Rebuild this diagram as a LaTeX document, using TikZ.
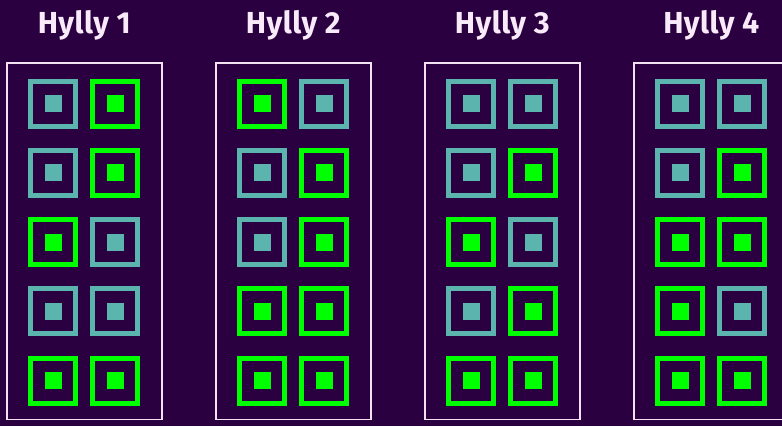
\documentclass[tikz,border=0pt]{standalone}
\usepackage{fontspec}
\setmainfont{Fira Sans}
\newfontfamily\titlefont[LetterSpace=1.5]{Fira Sans}
\definecolor{bgpurple}{HTML}{2A0040}
\definecolor{tealbox}{HTML}{5CB4AE}
\definecolor{greenbox}{HTML}{00FF00}
\definecolor{framecol}{HTML}{F2E2F2}
\definecolor{titlecol}{HTML}{F8EAF8}
\tikzset{
  shelfframe/.style={draw=framecol, line width=1.6bp, minimum width=155bp, minimum height=356.5bp, inner sep=0pt},
  shelftitle/.style={text=titlecol, font=\titlefont\fontsize{30.5}{33}\selectfont\bfseries, inner sep=0pt, anchor=base},
  slotT/.style={draw=tealbox, line width=5bp, minimum size=45bp, inner sep=0pt},
  slotG/.style={draw=greenbox, line width=5bp, minimum size=45bp, inner sep=0pt},
  coreT/.style={fill=tealbox, minimum size=17bp, inner sep=0pt},
  coreG/.style={fill=greenbox, minimum size=17bp, inner sep=0pt},
}
\begin{document}
\begin{tikzpicture}[x=1bp,y=-1bp]
  \fill[bgpurple] (0,0) rectangle (782,426);
  \useasboundingbox (0,0) rectangle (782,426);
  % shelves: index / slot pattern per row (left/right)
  \foreach \s/\pat in {1/{T/G,T/G,G/T,T/T,G/G},
                       2/{G/T,T/G,T/G,G/G,G/G},
                       3/{T/T,T/G,G/T,T/G,G/G},
                       4/{T/T,T/G,G/G,G/T,G/G}} {
    \pgfmathsetmacro{\cx}{84.3+209*(\s-1)}
    \node[shelfframe] (shelf\s) at (\cx,241.2) {};
    \node[shelftitle] (title\s) at (\cx,33.5) {Hylly \s};
    \foreach \l/\r [count=\k] in \pat {
      \pgfmathsetmacro{\cy}{103.7+69.25*(\k-1)}
      \node[slot\l] (s\s-\k-a) at (\cx-31,\cy) {};
      \node[core\l] (c\s-\k-a) at (s\s-\k-a.center) {};
      \node[slot\r] (s\s-\k-b) at (\cx+31,\cy) {};
      \node[core\r] (c\s-\k-b) at (s\s-\k-b.center) {};
    }
  }
\end{tikzpicture}
\end{document}
